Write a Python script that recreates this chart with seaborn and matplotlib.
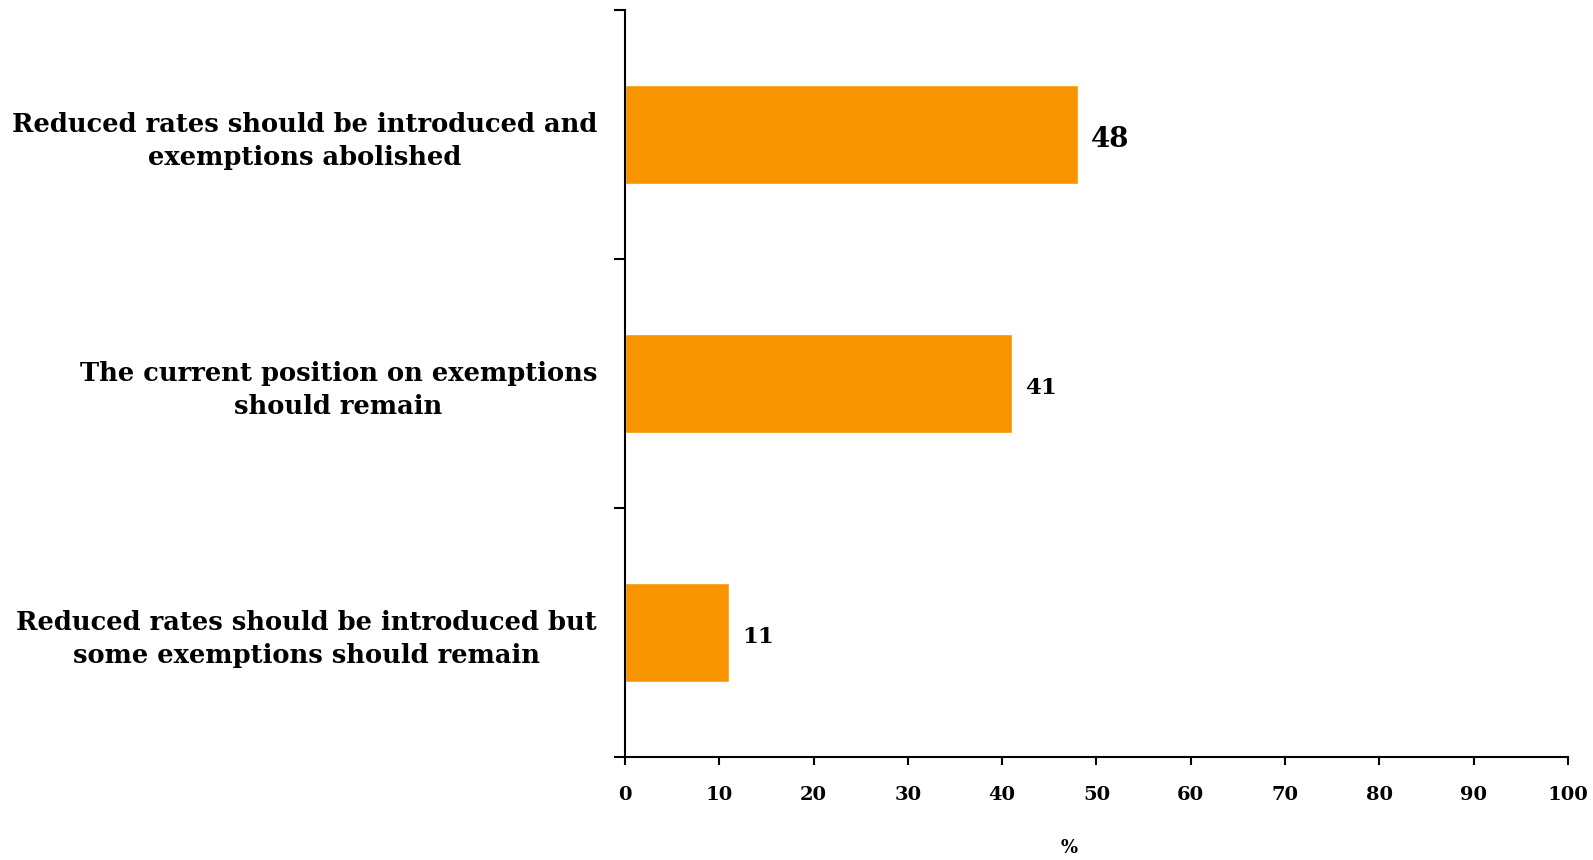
import matplotlib
matplotlib.use("Agg")
import matplotlib.pyplot as plt
import seaborn as sns
import pandas as pd
from matplotlib.ticker import FixedLocator

categories = [
    "Reduced rates should be introduced and\nexemptions abolished",
    "The current position on exemptions\nshould remain",
    "Reduced rates should be introduced but\nsome exemptions should remain",
]
values = [48, 41, 11]
xticks = [0, 10, 20, 30, 40, 50, 60, 70, 80, 90, 100]
xlabel = "%"

sns.set_theme(style="white")
plt.rcParams["font.family"] = ["DejaVu Serif"]
plt.rcParams["font.weight"] = "bold"
plt.rcParams["text.color"] = "black"
plt.rcParams["xtick.color"] = "black"
plt.rcParams["ytick.color"] = "black"
plt.rcParams["axes.labelcolor"] = "black"

df = pd.DataFrame({"cat": categories, "val": values})

fig = plt.figure(figsize=(15.93, 8.6), dpi=100)
ax = fig.add_axes([0.3923, 0.1198, 0.5920, 0.8686])

sns.barplot(data=df, x="val", y="cat", orient="h", color="#F79400",
            width=0.4, saturation=1, ax=ax)

ax.set_xlim(0, 100)
ax.set_ylim(2.5, -0.5)
ax.set_xticks(xticks)
ax.set_xticklabels([str(t) for t in xticks], fontsize=14, fontweight="bold", color="black")
ax.tick_params(axis="x", direction="out", length=6, width=1.5, pad=15, color="black", bottom=True)

ax.set_yticks(range(len(categories)))
ax.set_yticklabels(categories, fontsize=18.5, fontweight="bold", multialignment="center",
                   linespacing=1.38, color="black")
ax.tick_params(axis="y", which="major", length=0, pad=20)
ax.yaxis.set_minor_locator(FixedLocator([-0.5, 0.5, 1.5, 2.5]))
ax.tick_params(axis="y", which="minor", direction="out", length=8, width=1.5, color="black", left=True)

ax.set_ylabel("")
ax.set_xlabel(xlabel, fontsize=13, fontweight="bold", color="black")
ax.xaxis.set_label_coords(0.471, -0.11)

for s in ["top", "right"]:
    ax.spines[s].set_visible(False)
for s in ["left", "bottom"]:
    ax.spines[s].set_color("black")
    ax.spines[s].set_linewidth(1.5)

sizes = [20, 16.5, 16.5]
for i, v in enumerate(values):
    ax.text(v + 1.4, i + 0.02, str(v), va="center", ha="left", fontsize=sizes[i],
            fontweight="bold", color="black")

fig.savefig("out.png", dpi=100, facecolor="white")
